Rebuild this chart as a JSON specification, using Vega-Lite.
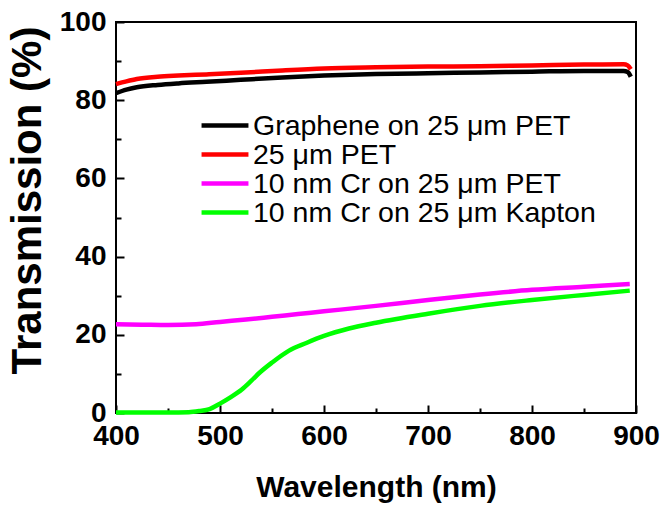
{
  "$schema": "https://vega.github.io/schema/vega-lite/v6.json",
  "width": 520,
  "height": 391,
  "autosize": {"type": "none"},
  "padding": {"left": 116, "top": 22, "right": 34, "bottom": 93},
  "config": {
    "view": {"stroke": "black", "strokeWidth": 2},
    "axis": {
      "domain": false,
      "grid": false,
      "tickColor": "black",
      "tickWidth": 2,
      "labelColor": "black",
      "titleColor": "black",
      "labelFont": "Liberation Sans",
      "labelFontWeight": "bold",
      "labelFontSize": 28,
      "titleFont": "Liberation Sans",
      "titleFontWeight": "bold"
    }
  },
  "data": {
    "values": [
      {"wl": 400, "T": 81.8, "s": "Graphene on 25 μm PET"},
      {"wl": 410, "T": 82.7, "s": "Graphene on 25 μm PET"},
      {"wl": 420, "T": 83.3, "s": "Graphene on 25 μm PET"},
      {"wl": 440, "T": 83.9, "s": "Graphene on 25 μm PET"},
      {"wl": 460, "T": 84.3, "s": "Graphene on 25 μm PET"},
      {"wl": 487, "T": 84.7, "s": "Graphene on 25 μm PET"},
      {"wl": 520, "T": 85.2, "s": "Graphene on 25 μm PET"},
      {"wl": 560, "T": 85.8, "s": "Graphene on 25 μm PET"},
      {"wl": 600, "T": 86.3, "s": "Graphene on 25 μm PET"},
      {"wl": 650, "T": 86.7, "s": "Graphene on 25 μm PET"},
      {"wl": 700, "T": 86.9, "s": "Graphene on 25 μm PET"},
      {"wl": 750, "T": 87.1, "s": "Graphene on 25 μm PET"},
      {"wl": 800, "T": 87.3, "s": "Graphene on 25 μm PET"},
      {"wl": 850, "T": 87.5, "s": "Graphene on 25 μm PET"},
      {"wl": 888, "T": 87.5, "s": "Graphene on 25 μm PET"},
      {"wl": 892, "T": 87.2, "s": "Graphene on 25 μm PET"},
      {"wl": 895, "T": 86.0, "s": "Graphene on 25 μm PET"},
      {"wl": 400, "T": 84.1, "s": "25 μm PET"},
      {"wl": 410, "T": 84.8, "s": "25 μm PET"},
      {"wl": 420, "T": 85.4, "s": "25 μm PET"},
      {"wl": 440, "T": 86.0, "s": "25 μm PET"},
      {"wl": 460, "T": 86.3, "s": "25 μm PET"},
      {"wl": 487, "T": 86.6, "s": "25 μm PET"},
      {"wl": 520, "T": 87.0, "s": "25 μm PET"},
      {"wl": 560, "T": 87.6, "s": "25 μm PET"},
      {"wl": 600, "T": 88.1, "s": "25 μm PET"},
      {"wl": 650, "T": 88.4, "s": "25 μm PET"},
      {"wl": 700, "T": 88.6, "s": "25 μm PET"},
      {"wl": 750, "T": 88.7, "s": "25 μm PET"},
      {"wl": 800, "T": 88.9, "s": "25 μm PET"},
      {"wl": 850, "T": 89.1, "s": "25 μm PET"},
      {"wl": 888, "T": 89.2, "s": "25 μm PET"},
      {"wl": 892, "T": 88.9, "s": "25 μm PET"},
      {"wl": 895, "T": 87.9, "s": "25 μm PET"},
      {"wl": 400, "T": 22.7, "s": "10 nm Cr on 25 μm PET"},
      {"wl": 425, "T": 22.6, "s": "10 nm Cr on 25 μm PET"},
      {"wl": 450, "T": 22.5, "s": "10 nm Cr on 25 μm PET"},
      {"wl": 477, "T": 22.7, "s": "10 nm Cr on 25 μm PET"},
      {"wl": 500, "T": 23.3, "s": "10 nm Cr on 25 μm PET"},
      {"wl": 525, "T": 23.9, "s": "10 nm Cr on 25 μm PET"},
      {"wl": 550, "T": 24.6, "s": "10 nm Cr on 25 μm PET"},
      {"wl": 575, "T": 25.3, "s": "10 nm Cr on 25 μm PET"},
      {"wl": 600, "T": 26.0, "s": "10 nm Cr on 25 μm PET"},
      {"wl": 650, "T": 27.4, "s": "10 nm Cr on 25 μm PET"},
      {"wl": 700, "T": 28.9, "s": "10 nm Cr on 25 μm PET"},
      {"wl": 750, "T": 30.3, "s": "10 nm Cr on 25 μm PET"},
      {"wl": 800, "T": 31.5, "s": "10 nm Cr on 25 μm PET"},
      {"wl": 850, "T": 32.3, "s": "10 nm Cr on 25 μm PET"},
      {"wl": 894, "T": 33.0, "s": "10 nm Cr on 25 μm PET"},
      {"wl": 400, "T": 0.1, "s": "10 nm Cr on 25 μm Kapton"},
      {"wl": 450, "T": 0.1, "s": "10 nm Cr on 25 μm Kapton"},
      {"wl": 470, "T": 0.2, "s": "10 nm Cr on 25 μm Kapton"},
      {"wl": 480, "T": 0.5, "s": "10 nm Cr on 25 μm Kapton"},
      {"wl": 490, "T": 1.0, "s": "10 nm Cr on 25 μm Kapton"},
      {"wl": 500, "T": 2.4, "s": "10 nm Cr on 25 μm Kapton"},
      {"wl": 510, "T": 4.0, "s": "10 nm Cr on 25 μm Kapton"},
      {"wl": 521, "T": 6.0, "s": "10 nm Cr on 25 μm Kapton"},
      {"wl": 530, "T": 8.2, "s": "10 nm Cr on 25 μm Kapton"},
      {"wl": 538, "T": 10.3, "s": "10 nm Cr on 25 μm Kapton"},
      {"wl": 550, "T": 12.9, "s": "10 nm Cr on 25 μm Kapton"},
      {"wl": 566, "T": 15.9, "s": "10 nm Cr on 25 μm Kapton"},
      {"wl": 583, "T": 17.9, "s": "10 nm Cr on 25 μm Kapton"},
      {"wl": 600, "T": 19.7, "s": "10 nm Cr on 25 μm Kapton"},
      {"wl": 624, "T": 21.6, "s": "10 nm Cr on 25 μm Kapton"},
      {"wl": 650, "T": 23.1, "s": "10 nm Cr on 25 μm Kapton"},
      {"wl": 700, "T": 25.4, "s": "10 nm Cr on 25 μm Kapton"},
      {"wl": 750, "T": 27.4, "s": "10 nm Cr on 25 μm Kapton"},
      {"wl": 800, "T": 28.9, "s": "10 nm Cr on 25 μm Kapton"},
      {"wl": 850, "T": 30.2, "s": "10 nm Cr on 25 μm Kapton"},
      {"wl": 894, "T": 31.3, "s": "10 nm Cr on 25 μm Kapton"}
    ]
  },
  "mark": {"type": "line", "strokeWidth": 4.5, "interpolate": "monotone"},
  "encoding": {
    "x": {
      "field": "wl",
      "type": "quantitative",
      "scale": {"domain": [400, 900], "nice": false},
      "axis": {
        "title": "Wavelength (nm)",
        "titleFontSize": 30,
        "titlePadding": 19,
        "values": [400, 450, 500, 550, 600, 650, 700, 750, 800, 850, 900],
        "labelExpr": "datum.value % 100 === 0 ? datum.label : ''",
        "tickSize": {"condition": {"test": "datum.value % 100 === 0", "value": -8}, "value": -5},
        "labelPadding": 17,
        "labelFlush": false,
        "labelOverlap": false
      }
    },
    "y": {
      "field": "T",
      "type": "quantitative",
      "scale": {"domain": [0, 100], "nice": false},
      "axis": {
        "title": "Transmission (%)",
        "titleFontSize": 42,
        "titlePadding": 10,
        "titleY": 178,
        "values": [0, 10, 20, 30, 40, 50, 60, 70, 80, 90, 100],
        "labelExpr": "datum.value % 20 === 0 ? datum.label : ''",
        "tickSize": {"condition": {"test": "datum.value % 20 === 0", "value": -8}, "value": -5},
        "labelPadding": 18,
        "labelFlush": false,
        "labelOverlap": false
      }
    },
    "color": {
      "field": "s",
      "type": "nominal",
      "sort": null,
      "scale": {
        "domain": ["Graphene on 25 μm PET", "25 μm PET", "10 nm Cr on 25 μm PET", "10 nm Cr on 25 μm Kapton"],
        "range": ["#000000", "#ff0000", "#ff00ff", "#00ff00"]
      },
      "legend": {
        "title": null,
        "orient": "none",
        "legendX": 83,
        "legendY": 89,
        "symbolType": "stroke",
        "symbolSize": 2200,
        "symbolStrokeWidth": 4.5,
        "clipHeight": 29,
        "rowPadding": 0,
        "labelFont": "Liberation Sans",
        "labelFontSize": 28.5,
        "labelColor": "black",
        "labelOffset": 2,
        "labelLimit": 450
      }
    }
  }
}
